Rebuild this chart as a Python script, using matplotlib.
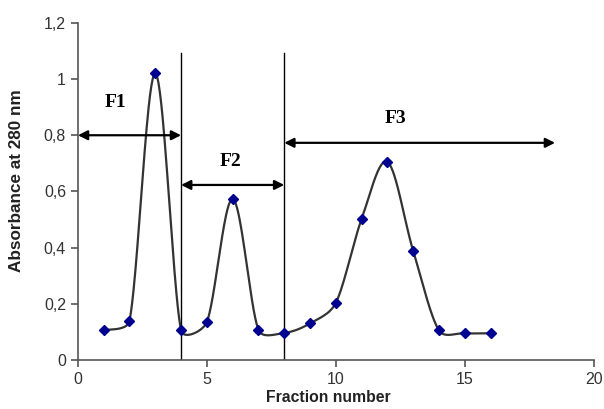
import numpy as np
import matplotlib.pyplot as plt

# --------------------------------------------------
# Data
# --------------------------------------------------
fraction = [1, 2, 3, 4, 5, 6, 7, 8, 9, 10, 11, 12, 13, 14, 15, 16]
absorbance = [0.105, 0.139, 1.02, 0.105, 0.135, 0.573, 0.107, 0.096,
              0.13, 0.203, 0.502, 0.705, 0.388, 0.105, 0.095, 0.095]

x_ticks = [0, 5, 10, 15, 20]
y_ticks = [0, 0.2, 0.4, 0.6, 0.8, 1.0, 1.2]
y_tick_labels = ["0", "0,2", "0,4", "0,6", "0,8", "1", "1,2"]

# fraction boundaries and arrow spans
boundaries = [4, 8]
fractions = [("F1", 0, 4, 0.80, 1.45, 0.915),
             ("F2", 4, 8, 0.623, 5.9, 0.705),
             ("F3", 8, 18.5, 0.773, 12.3, 0.86)]


# --------------------------------------------------
# Smoothed line, done in pixel space like a spreadsheet "smooth line":
# Catmull-Rom tangents, clamped so short segments don't overshoot
# --------------------------------------------------
def smooth_curve(pts, n=40, k=0.38):
    p = np.vstack([pts[0], pts, pts[-1]])
    out = []
    t = np.linspace(0, 1, n)[:, None]
    for i in range(1, len(p) - 2):
        p0, p1, p2, p3 = p[i - 1], p[i], p[i + 1], p[i + 2]
        seg = np.linalg.norm(p2 - p1)
        d1 = (p2 - p0) / 6
        d2 = (p3 - p1) / 6
        l1, l2 = np.linalg.norm(d1), np.linalg.norm(d2)
        if l1 > k * seg:
            d1 = d1 * k * seg / l1
        if l2 > k * seg:
            d2 = d2 * k * seg / l2
        c1, c2 = p1 + d1, p2 - d2
        b = (1 - t)**3 * p1 + 3 * (1 - t)**2 * t * c1 + 3 * (1 - t) * t**2 * c2 + t**3 * p2
        out.append(b)
    return np.vstack(out)


# --------------------------------------------------
# Plot
# --------------------------------------------------
fig = plt.figure(figsize=(6.04, 4.09), dpi=100)
ax = fig.add_axes([0.129, 0.12, 0.854, 0.824])
ax.set_xlim(0, 20)
ax.set_ylim(0, 1.2)

pix = ax.transData.transform(np.column_stack([fraction, absorbance]))
curve = ax.transData.inverted().transform(smooth_curve(pix))

ax.plot(curve[:, 0], curve[:, 1], color='#333333', linewidth=1.6, zorder=2)
ax.plot(fraction, absorbance, linestyle='none', marker='D', markersize=5.5,
        color='#000090', zorder=3)

for b in boundaries:
    ax.plot([b, b], [0, 1.093], color='black', linewidth=1.0, zorder=1)

for name, x0, x1, y, lx, ly in fractions:
    ax.annotate('', xy=(x1, y), xytext=(x0, y),
                arrowprops=dict(arrowstyle='<|-|>', color='black', lw=1.6,
                                mutation_scale=14, shrinkA=0, shrinkB=0))
    ax.text(lx, ly, name, fontfamily='Liberation Serif', fontweight='bold',
            fontsize=14, ha='center', va='center')

ax.set_xticks(x_ticks)
ax.set_yticks(y_ticks)
ax.set_yticklabels(y_tick_labels)

for side in ['top', 'right']:
    ax.spines[side].set_visible(False)
for side in ['left', 'bottom']:
    ax.spines[side].set_color('#555555')
    ax.spines[side].set_linewidth(1.2)

ax.tick_params(axis='both', colors='#555555', labelcolor='#333333',
               labelsize=11.5, length=5, width=1.2)
for lab in ax.get_xticklabels() + ax.get_yticklabels():
    lab.set_fontfamily('Liberation Sans')

ax.set_xlabel('Fraction number', fontfamily='Liberation Sans',
              fontweight='bold', fontsize=11.3, color='#222222')
ax.set_ylabel('Absorbance at 280 nm', fontfamily='Liberation Sans',
              fontweight='bold', fontsize=12.3, color='#222222')
ax.xaxis.set_label_coords(0.486, -0.09)
ax.yaxis.set_label_coords(-0.105, 0.531)

plt.savefig('out.png', dpi=100)
